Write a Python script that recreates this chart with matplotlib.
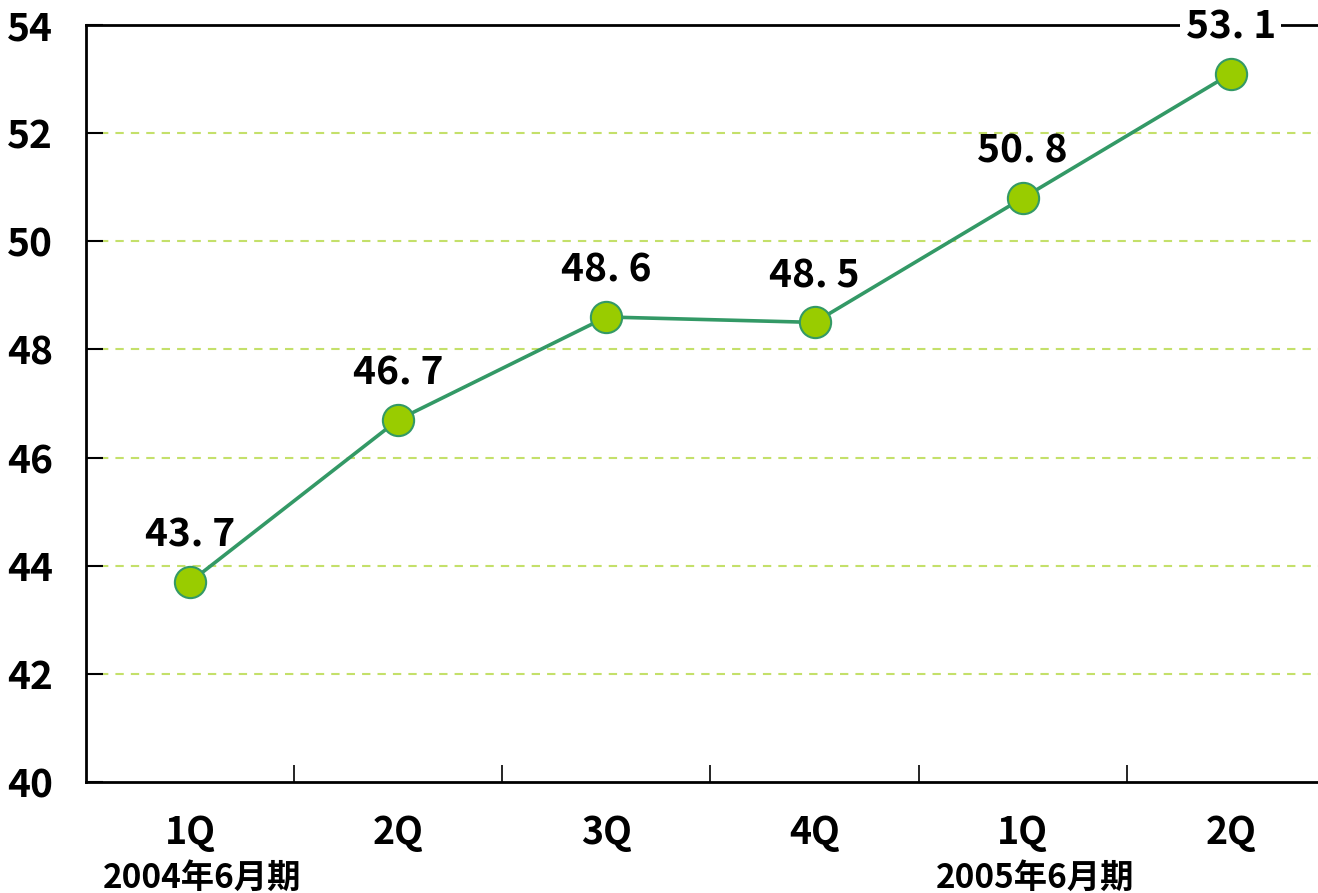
import matplotlib
matplotlib.use("Agg")
import matplotlib.pyplot as plt
from matplotlib.ticker import MultipleLocator

# data
quarters = ['1Q', '2Q', '3Q', '4Q', '1Q', '2Q']
values = [43.7, 46.7, 48.6, 48.5, 50.8, 53.1]
period_labels = ['2004年6月期', '2005年6月期']
period_pos = [0, 4]

fam = ['Noto Sans CJK JP', 'DejaVu Sans']
plt.rcParams['font.family'] = fam

line_color = '#339966'
dot_color = '#99CC00'
grid_color = '#C4E06A'

fig = plt.figure(figsize=(13.18, 8.93), dpi=100)
ax = fig.add_axes([86 / 1318, 111 / 893, 1249 / 1318, 757 / 893])

x = list(range(len(values)))
ax.plot(x, values, color=line_color, lw=2.6, marker='o', ms=22.5,
        mfc=dot_color, mec=line_color, mew=1.5, zorder=3, clip_on=False)

for xi, v in zip(x, values):
    ax.text(xi, v + 0.5, f"{v:.1f}".replace('.', '. '), ha='center', va='bottom',
            fontsize=28, fontweight='bold', zorder=5,
            bbox=dict(fc='white', ec='none', pad=4) if v > 53 else None)

ax.set_xlim(-0.5, len(values) - 0.5)
ax.set_ylim(40, 54)
ax.yaxis.set_major_locator(MultipleLocator(2))
ax.set_xticks(x)
ax.set_xticklabels(quarters, fontsize=27, fontweight='bold')
ax.set_xticks([i + 0.5 for i in x[:-1]], minor=True)
ax.tick_params(axis='x', which='major', length=0, pad=22)
ax.tick_params(axis='x', which='minor', direction='in', length=12, width=1.2)
ax.tick_params(axis='y', direction='in', length=12, width=1.5, pad=24, labelsize=28)
for lab in ax.get_yticklabels():
    lab.set_fontweight('bold')

for yv in range(42, 54, 2):
    ax.axhline(yv, xmin=0.011, color=grid_color, lw=1.5, ls=(0, (4, 3.4)), zorder=1)

for s in ['left', 'bottom', 'top']:
    ax.spines[s].set_linewidth(2)
ax.spines['right'].set_visible(False)

for p, lab in zip(period_pos, period_labels):
    ax.text(p + 0.06, 38.04, lab, ha='center', va='baseline', fontsize=24,
            fontweight='bold')

fig.savefig('out.png', dpi=100)
